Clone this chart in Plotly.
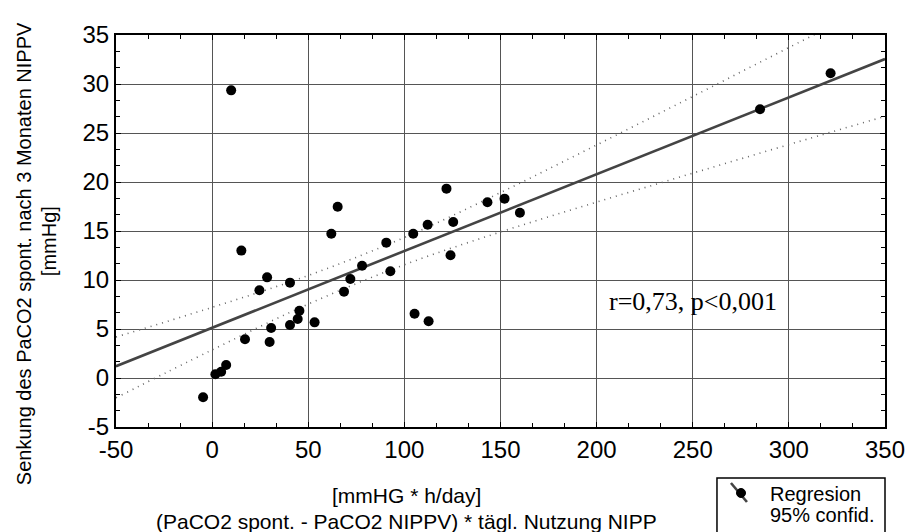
import numpy as np
import plotly.graph_objects as go

# ---- data ----
x_vals = [9.9, 15.2, -4.7, 1.7, 4.7, 7.3, 17.1, 24.6, 28.6, 30.7, 29.9, 40.5,
          40.5, 44.5, 45.4, 53.3, 62.0, 65.3, 68.6, 71.9, 78.0, 90.6, 92.7,
          104.6, 105.3, 112.1, 112.6, 121.9, 124.0, 125.4, 143.2, 152.1, 160.1,
          285.0, 321.7]
y_vals = [29.35, 13.0, -1.97, 0.38, 0.64, 1.33, 3.95, 8.95, 10.27, 5.1, 3.67,
          9.73, 5.41, 6.02, 6.87, 5.68, 14.72, 17.48, 8.81, 10.1, 11.46, 13.81,
          10.89, 14.72, 6.56, 15.64, 5.79, 19.32, 12.52, 15.92, 17.93, 18.3,
          16.87, 27.42, 31.09]

# 95% confidence band
ci_x = [-50, 0, 50, 100, 150, 200, 250, 300, 350]
ci_upper = [4.19, 7.21, 10.46, 14.34, 18.92, 23.78, 28.73, 33.72, 38.7]
ci_lower = [-2.02, 2.87, 7.54, 11.56, 14.9, 17.94, 20.9, 23.82, 26.7]

x_range = [-50, 350]
y_range = [-5, 35]
x_ticks = [-50, 0, 50, 100, 150, 200, 250, 300, 350]
x_ticktext = ["-50", "0", "50", "100", "150", "200", "250", "300", "350"]
y_ticks = [-5, 0, 5, 10, 15, 20, 25, 30, 35]
y_ticktext = ["-5", "0", "5", "10", "15", "20", "25", "30", "35"]
stat_text = "r=0,73, p<0,001"
legend_labels = ["Regresion", "95% confid."]

# ---- regression line fitted to the data ----
xa = np.array(x_vals)
ya = np.array(y_vals)
slope, intercept = np.polyfit(xa, ya, 1)
reg_x = np.array(x_range, dtype=float)
reg_y = intercept + slope * reg_x

fig = go.Figure()
band_line = dict(color="#666666", width=1.6, dash="1px,5px", shape="spline")
fig.add_trace(go.Scatter(x=ci_x, y=ci_upper, mode="lines", name="95% confid.",
                         line=band_line, showlegend=False, hoverinfo="skip"))
fig.add_trace(go.Scatter(x=ci_x, y=ci_lower, mode="lines", name="95% confid.",
                         line=band_line, showlegend=False, hoverinfo="skip"))
fig.add_trace(go.Scatter(x=reg_x, y=reg_y, mode="lines", name="Regresion",
                         line=dict(color="#444444", width=2.6),
                         showlegend=False))
fig.add_trace(go.Scatter(x=x_vals, y=y_vals, mode="markers", name="data",
                         marker=dict(color="black", size=10),
                         showlegend=False))

axis_common = dict(
    ticks="inside", ticklen=5, tickcolor="black", tickwidth=1,
    showgrid=True, gridcolor="#555555", gridwidth=1,
    showline=True, linecolor="black", linewidth=2, mirror="allticks",
    zeroline=False, automargin=False,
    tickfont=dict(family="Liberation Sans, Arial, sans-serif", size=24, color="black"),
)

fig.update_xaxes(range=x_range, tickvals=x_ticks, ticktext=x_ticktext,
                 ticklabelstandoff=0,
                 minor=dict(dtick=50 / 3, tick0=-50, ticks="inside", ticklen=4,
                            tickcolor="black", showgrid=False),
                 **axis_common)
fig.update_yaxes(range=y_range, tickvals=y_ticks, ticktext=y_ticktext,
                 ticklabelstandoff=0,
                 minor=dict(dtick=5 / 3, tick0=-5, ticks="inside", ticklen=4,
                            tickcolor="black", showgrid=False),
                 **axis_common)

title_font = dict(family="Liberation Sans, Arial, sans-serif", size=21, color="black")
ytitle_font = dict(family="Liberation Sans, Arial, sans-serif", size=20, color="black")
fig.add_annotation(text=stat_text, x=250, y=7.85, xref="x", yref="y",
                   showarrow=False, xanchor="center", yanchor="middle",
                   font=dict(family="Liberation Serif, Times New Roman, serif",
                             size=26, color="black"))
fig.add_annotation(text="[mmHG * h/day]", xref="paper", yref="paper",
                   x=0.378, y=-0.1735, showarrow=False, xanchor="center",
                   yanchor="middle", font=title_font)
fig.add_annotation(text="(PaCO2 spont. - PaCO2 NIPPV) * tägl. Nutzung NIPP",
                   xref="paper", yref="paper", x=0.378, y=-0.24,
                   showarrow=False, xanchor="center", yanchor="middle",
                   font=title_font)
fig.add_annotation(text="Senkung des PaCO2 spont. nach 3 Monaten NIPPV",
                   xref="paper", yref="paper", x=-0.1196, y=0.441,
                   textangle=-90, showarrow=False, xanchor="center",
                   yanchor="middle", font=ytitle_font)
fig.add_annotation(text="[mmHg]", xref="paper", yref="paper",
                   x=-0.088, y=0.475, textangle=-90, showarrow=False,
                   xanchor="center", yanchor="middle", font=ytitle_font)

# ---- legend box (drawn by hand, below-right of the plot) ----
legend_font = dict(family="Liberation Sans, Arial, sans-serif", size=20, color="black")
fig.add_shape(type="rect", xref="paper", yref="paper",
              x0=0.7815, x1=1.0, y0=-0.1301, y1=-0.32,
              line=dict(color="black", width=1.5), fillcolor="white")
fig.add_shape(type="line", xref="paper", yref="paper",
              x0=0.7997, y0=-0.1429, x1=0.8205, y1=-0.1913,
              line=dict(color="#444444", width=2.6))
fig.add_shape(type="circle", xref="paper", yref="paper",
              x0=0.8069, x1=0.8186, y0=-0.1569, y1=-0.1798,
              line=dict(color="black", width=1), fillcolor="black")
fig.add_annotation(text=legend_labels[0], xref="paper", yref="paper",
                   x=0.8479, y=-0.1709, xanchor="left", yanchor="middle",
                   showarrow=False, font=legend_font)
fig.add_annotation(text=legend_labels[1], xref="paper", yref="paper",
                   x=0.8479, y=-0.2245, xanchor="left", yanchor="middle",
                   showarrow=False, font=legend_font)

fig.update_layout(
    width=906, height=532,
    margin=dict(l=116, r=21, t=35, b=105, autoexpand=False),
    paper_bgcolor="white", plot_bgcolor="white",
    showlegend=False,
)

fig.write_html("out.html", config={"displayModeBar": False},
               post_script="document.body.style.margin='0';document.body.style.overflow='hidden';")
